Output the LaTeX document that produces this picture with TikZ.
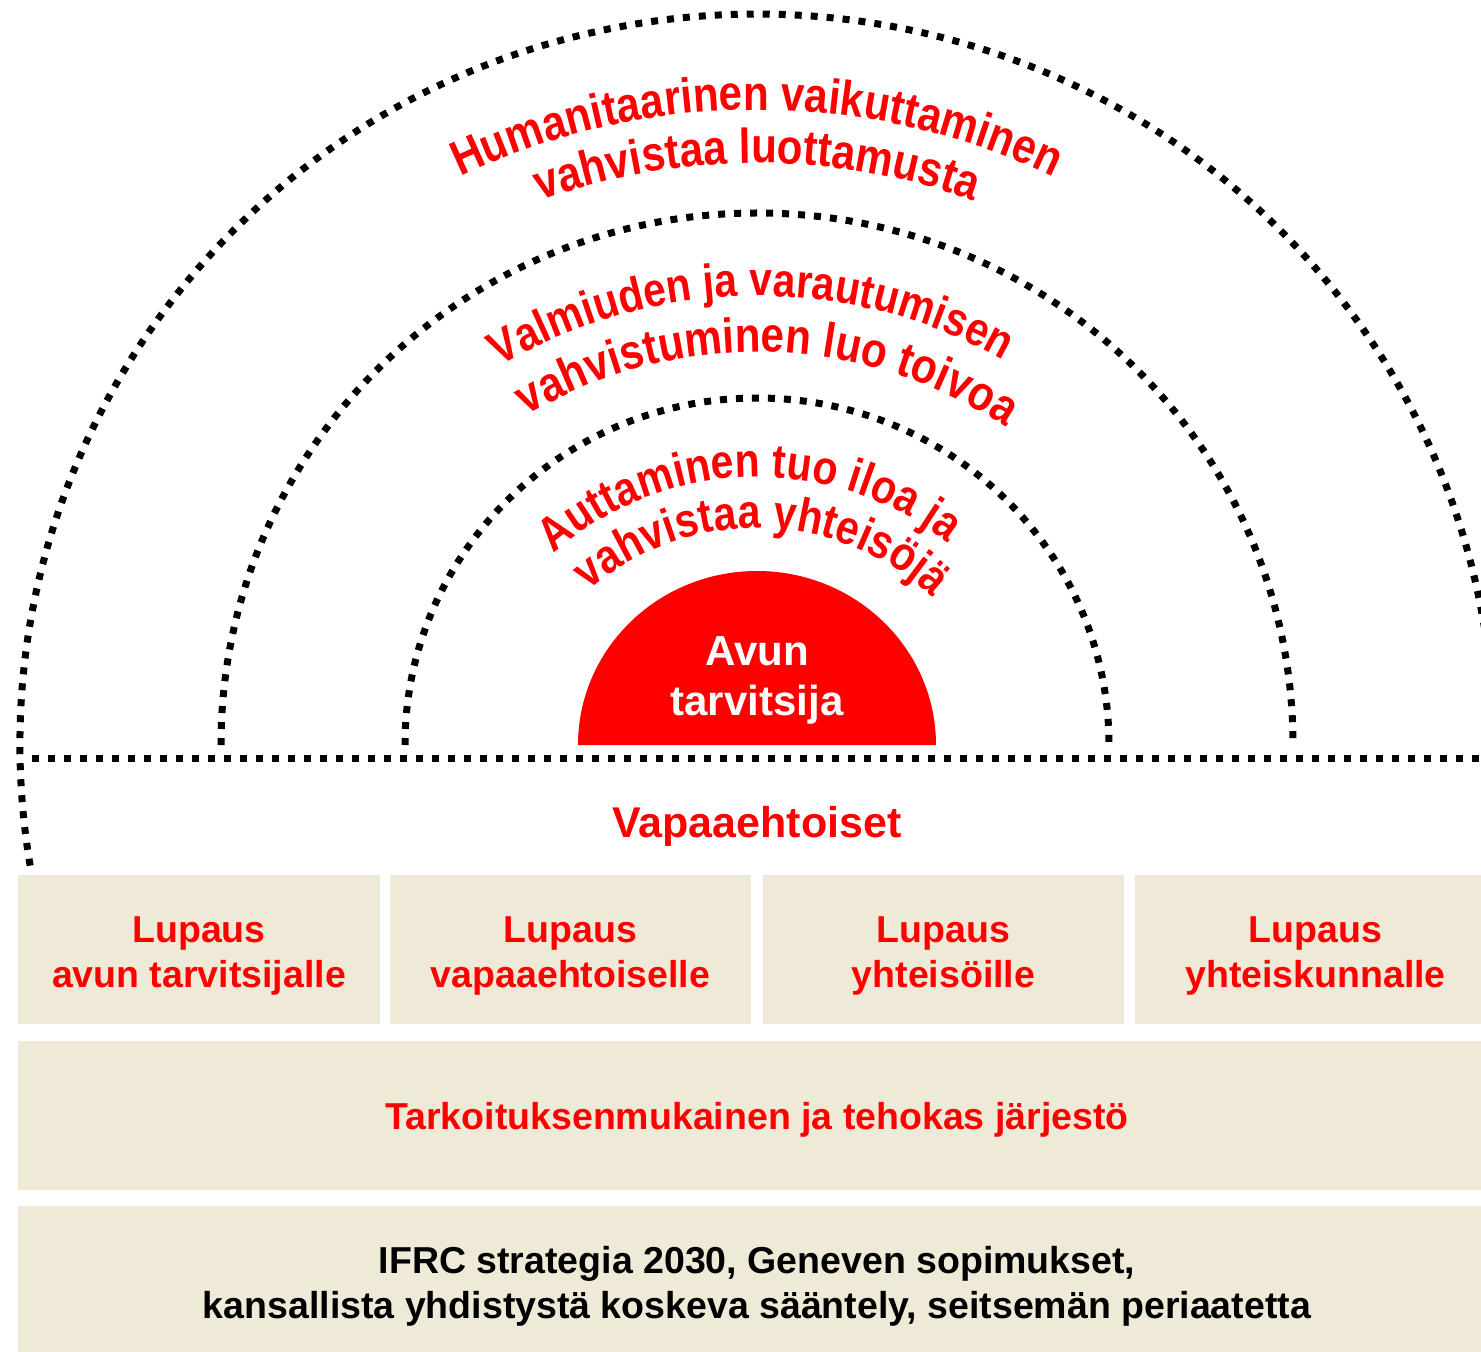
\documentclass[tikz,border=0pt]{standalone}
\usepackage{fontspec}
\setmainfont{Liberation Sans}
\newfontfamily\archfamily[FakeStretch=0.86]{Liberation Sans}
\usetikzlibrary{decorations.text,calc}
\definecolor{beige}{RGB}{239,234,215}
\definecolor{myred}{RGB}{255,0,0}
\begin{document}
\begin{tikzpicture}[x=0.5pt,y=0.5pt,
  dotline/.style={line width=3.5pt, dash pattern=on 3.5pt off 4.5pt, black},
  box/.style={fill=beige, inner sep=0pt, outer sep=0pt, anchor=north west},
  lbl/.style={text=myred, font=\bfseries\fontsize{18.75}{22.5}\selectfont, align=center, inner sep=0pt},
  blk/.style={text=black, font=\bfseries\fontsize{18.75}{22.5}\selectfont, align=center, inner sep=0pt},
  arctext/.style 2 args={decorate, decoration={text along path, text align=center, text color=myred,
     text={|\archfamily\bfseries\fontsize{#2}{28}\selectfont|#1}}}
]
\useasboundingbox (0,0) rectangle (1481,-1352);
\clip (0,0) rectangle (1481,-1352);

% centres
\coordinate (C) at (757,-745);
\coordinate (T) at (757,-800);
\coordinate (Ti) at (757,-785);

% boxes
\node[box, minimum width=181pt, minimum height=74.5pt] (b1) at (18,-875) {};
\node[box, minimum width=180.5pt, minimum height=74.5pt] (b2) at (390,-875) {};
\node[box, minimum width=180.5pt, minimum height=74.5pt] (b3) at (763,-875) {};
\node[box, minimum width=180.5pt, minimum height=74.5pt] (b4) at (1135,-875) {};
\node[box, minimum width=739pt, minimum height=74.5pt] (r2) at (18,-1041) {};
\node[box, minimum width=739pt, minimum height=79pt] (r3) at (18,-1206) {};

\node[lbl] (t1) at ([yshift=-3pt]b1.center) {Lupaus\\avun tarvitsijalle};
\node[lbl] (t2) at ([yshift=-3pt]b2.center) {Lupaus\\vapaaehtoiselle};
\node[lbl] (t3) at ([yshift=-3pt]b3.center) {Lupaus\\yhteisöille};
\node[lbl] (t4) at ([yshift=-3pt]b4.center) {Lupaus\\yhteiskunnalle};
\node[lbl] (t5) at ([yshift=-2.25pt]r2.center) {Tarkoituksenmukainen ja tehokas järjestö};
\node[blk] (t6) at ([yshift=-0.5pt]r3.center) {IFRC strategia 2030, Geneven sopimukset,\\kansallista yhdistystä koskeva sääntely, seitsemän periaatetta};

% red half disc
\fill[myred] ($(C)+(-179,0)$) arc[start angle=180, end angle=0, x radius=179, y radius=174] -- cycle;
\node[text=white, font=\bfseries\fontsize{21}{25}\selectfont, align=center, inner sep=0pt] (avun) at (757,-680) {Avun\\tarvitsija};

% dotted arcs
\draw[dotline] ($(C)+(-352,0)$) arc[start angle=180, end angle=0, x radius=352, y radius=347];
\draw[dotline] ($(C)+(-536,0)$) arc[start angle=180, end angle=0, x radius=536, y radius=532];
\draw[dotline] ($(C)+(189.5:737 and 731)$) arc[start angle=189.5, end angle=0, x radius=737, y radius=731];

% horizontal dotted line
\coordinate (hl) at (32,-758);
\coordinate (hr) at (1500,-758);
\draw[dotline] (hl) -- (hr);

\node[text=myred, font=\bfseries\fontsize{21.5}{25}\selectfont, anchor=base, inner sep=0pt] (vap) at (757,-837) {Vapaaehtoiset};

% curved texts
\path[arctext={Humanitaarinen vaikuttaminen}{24.5}] ($(T)+(180:690)$) arc[start angle=180, end angle=0, radius=690];
\path[arctext={vahvistaa luottamusta}{24.5}] ($(T)+(180:637)$) arc[start angle=180, end angle=0, radius=637];
\path[arctext={Valmiuden ja varautumisen}{23.7}] ($(T)+(180.7:504)$) arc[start angle=180.7, end angle=0.7, radius=504];
\path[arctext={vahvistuminen luo toivoa}{24.5}] ($(T)+(178.6:448)$) arc[start angle=178.6, end angle=-1.4, radius=448];
\path[arctext={Auttaminen tuo iloa ja}{23.8}] ($(Ti)+(181.5:308)$) arc[start angle=181.5, end angle=1.5, radius=308];
\path[arctext={vahvistaa yhteisöjä}{23.9}] ($(Ti)+(178.9:257)$) arc[start angle=178.9, end angle=-1.1, radius=257];
\end{tikzpicture}
\end{document}
